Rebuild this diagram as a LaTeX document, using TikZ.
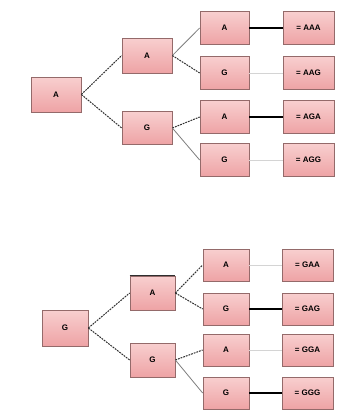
\documentclass[tikz,border=0pt]{standalone}
\usepackage{fontspec}
\setmainfont{Liberation Sans}
\definecolor{pinktop}{HTML}{F8CFCF}
\definecolor{pinkbot}{HTML}{EEA3A5}
\definecolor{boxedge}{HTML}{946A6A}
\definecolor{linkdark}{HTML}{2E2E2E}
\definecolor{linkgray}{HTML}{7E7E7E}
\definecolor{linkfaint}{HTML}{D4D4D4}
\begin{document}
\begin{tikzpicture}[x=1pt,y=-1pt,
  box/.style={draw=boxedge, line width=0.7pt, top color=pinktop, bottom color=pinkbot,
    minimum width=#1, minimum height=33pt, inner sep=0pt,
    font=\fontsize{8}{9}\selectfont\bfseries},
  box/.default=50pt,
  dashlink/.style={draw=linkdark, line width=1pt, dash pattern=on 1.8pt off 1pt},
  graylink/.style={draw=linkgray, line width=0.8pt},
  boldlink/.style={draw=black, line width=1.4pt},
  faintlink/.style={draw=linkfaint, line width=0.6pt}]
\useasboundingbox (0,0) rectangle (343,415);

% ---- tree starting with A ----
\node[box, minimum height=35pt] (ra) at (56,94.5) {A};
\node[box, minimum height=35pt] (a1) at (147,55.5) {A};
\node[box] (a2) at (147,128) {G};
\node[box=49pt] (a11) at (224.5,28) {A};
\node[box=49pt] (a12) at (224.5,73) {G};
\node[box=49pt] (a21) at (224.5,117) {A};
\node[box=49pt] (a22) at (224.5,160) {G};
\node[box=51pt] (raaa) at (308.5,28) {= AAA};
\node[box=51pt] (raag) at (308.5,73) {= AAG};
\node[box=51pt] (raga) at (308.5,117) {= AGA};
\node[box=51pt] (ragg) at (308.5,160) {= AGG};

\draw[dashlink] (ra.east) -- (a1.west);
\draw[dashlink] (ra.east) -- (a2.west);
\draw[graylink] (a1.east) -- (a11.west);
\draw[dashlink] (a1.east) -- (a12.west);
\draw[dashlink] (a2.east) -- (a21.west);
\draw[graylink] (a2.east) -- (a22.west);
\draw[boldlink] (a11.east) -- (raaa.west);
\draw[faintlink] (a12.east) -- (raag.west);
\draw[boldlink] (a21.east) -- (raga.west);
\draw[faintlink] (a22.east) -- (ragg.west);

% ---- tree starting with G ----
\node[box=46pt, minimum height=36pt] (rg) at (65,328) {G};
\node[box=45pt, minimum height=34pt] (g1) at (152.5,293) {A};
\node[box=45pt, minimum height=34pt] (g2) at (152.5,360) {G};
\node[box=46pt, minimum height=32pt] (g11) at (226,265) {A};
\node[box=46pt, minimum height=32pt] (g12) at (226,309) {G};
\node[box=46pt, minimum height=32pt] (g21) at (226,350) {A};
\node[box=46pt, minimum height=32pt] (g22) at (226,393) {G};
\node[box=51pt, minimum height=32pt] (rgaa) at (307.5,265) {= GAA};
\node[box=51pt, minimum height=32pt] (rgag) at (307.5,309) {= GAG};
\node[box=51pt, minimum height=32pt] (rgga) at (307.5,350) {= GGA};
\node[box=51pt, minimum height=32pt] (rggg) at (307.5,393) {= GGG};
\draw[line width=0.9pt, linkdark] (g1.north west) -- (g1.north east);

\draw[dashlink] (rg.east) -- (g1.west);
\draw[dashlink] (rg.east) -- (g2.west);
\draw[dashlink] (g1.east) -- (g11.west);
\draw[dashlink] (g1.east) -- (g12.west);
\draw[dashlink] (g2.east) -- (g21.west);
\draw[graylink] (g2.east) -- (g22.west);
\draw[faintlink] (g11.east) -- (rgaa.west);
\draw[boldlink] (g12.east) -- (rgag.west);
\draw[faintlink] (g21.east) -- (rgga.west);
\draw[boldlink] (g22.east) -- (rggg.west);
\end{tikzpicture}
\end{document}
